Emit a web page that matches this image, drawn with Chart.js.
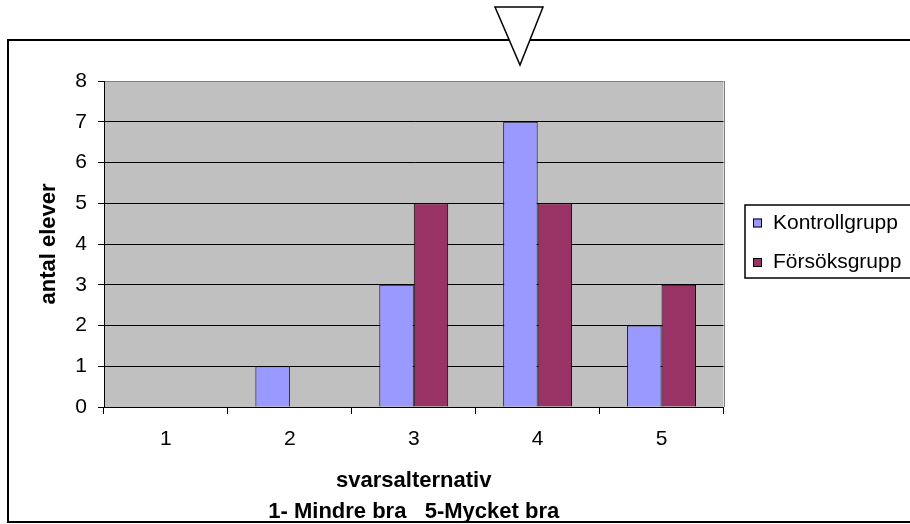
<!DOCTYPE html>
<html>
<head>
<meta charset="utf-8">
<script src="https://cdn.jsdelivr.net/npm/chart.js@4"></script>
<style>
  html, body { margin: 0; padding: 0; background: #ffffff; }
  #wrap { width: 910px; height: 524px; position: relative; }
</style>
</head>
<body>
<div id="wrap"><canvas id="c" width="910" height="524"></canvas></div>
<script>
// Answer categories (1 = Mindre bra ... 5 = Mycket bra)
const categories = ['1', '2', '3', '4', '5'];
// Number of pupils per answer
const kontrollgrupp = [0, 1, 3, 7, 2];
const forsoksgrupp = [0, 0, 5, 5, 3];
const seriesNames = ['Kontrollgrupp', 'Försöksgrupp'];
const seriesColors = ['#9999FF', '#993366'];
const yTicks = [0, 1, 2, 3, 4, 5, 6, 7, 8];
const yTitle = 'antal elever';
const xTitleLines = ['svarsalternativ', '1- Mindre bra   5-Mycket bra'];

const FONT = '"Liberation Sans", Arial, Helvetica, sans-serif';
const FS = 21;      // tick labels and legend
const FS_T = 22;    // axis titles (bold)

// Grey plot background, drawn underneath grid lines and bars
const plotBackground = {
  id: 'plotBackground',
  beforeDraw(chart) {
    const { ctx, chartArea: a } = chart;
    ctx.save();
    ctx.fillStyle = '#ffffff';
    ctx.fillRect(0, 0, chart.width, chart.height);
    ctx.fillStyle = '#C0C0C0';
    ctx.fillRect(a.left, a.top, a.right - a.left, a.bottom - a.top);
    ctx.restore();
  }
};

// Frame, axis caption, legend box and the marker triangle
const decorations = {
  id: 'decorations',
  afterDraw(chart) {
    const { ctx, chartArea: a } = chart;
    ctx.save();

    // right edge of the plot area
    ctx.strokeStyle = '#808080';
    ctx.lineWidth = 1;
    ctx.beginPath();
    ctx.moveTo(Math.round(a.right) + 0.5, a.top);
    ctx.lineTo(Math.round(a.right) + 0.5, a.bottom);
    ctx.stroke();

    // x axis caption (two lines)
    const cx = (a.left + a.right) / 2;
    ctx.fillStyle = '#000';
    ctx.textAlign = 'center';
    ctx.textBaseline = 'middle';
    ctx.font = 'bold ' + FS_T + 'px ' + FONT;
    ctx.fillText(xTitleLines[0], cx, 481);
    ctx.fillText(xTitleLines[1], cx, 512);

    // legend
    const lx = 745, ly = 205, lw = 200, lh = 73;
    ctx.fillStyle = '#ffffff';
    ctx.fillRect(lx, ly, lw, lh);
    ctx.strokeStyle = '#000';
    ctx.lineWidth = 1.5;
    ctx.strokeRect(lx, ly, lw, lh);
    ctx.font = FS + 'px ' + FONT;
    ctx.textAlign = 'left';
    ctx.textBaseline = 'middle';
    chart.data.datasets.forEach((ds, i) => {
      const y = 223 + i * 39.5;
      ctx.fillStyle = ds.backgroundColor;
      ctx.fillRect(753, y - 4.5, 9, 9);
      ctx.lineWidth = 1;
      ctx.strokeStyle = '#000';
      ctx.strokeRect(753.5, y - 4, 8, 8);
      ctx.fillStyle = '#000';
      ctx.fillText(ds.label, 773, y);
    });

    // outer frame
    ctx.strokeStyle = '#000';
    ctx.lineWidth = 2;
    ctx.beginPath();
    ctx.moveTo(930, 40);
    ctx.lineTo(8, 40);
    ctx.lineTo(8, 522);
    ctx.lineTo(930, 522);
    ctx.stroke();

    // triangle marker on the top edge
    ctx.beginPath();
    ctx.moveTo(495, 7);
    ctx.lineTo(543, 7);
    ctx.lineTo(520, 65);
    ctx.closePath();
    ctx.fillStyle = '#ffffff';
    ctx.fill();
    ctx.lineWidth = 1.5;
    ctx.strokeStyle = '#000';
    ctx.stroke();

    ctx.restore();
  }
};

new Chart(document.getElementById('c'), {
  type: 'bar',
  data: {
    labels: categories,
    datasets: [
      {
        label: seriesNames[0],
        data: kontrollgrupp,
        backgroundColor: seriesColors[0],
        borderColor: '#000000',
        borderWidth: 1,
        categoryPercentage: 0.556,
        barPercentage: 1.0
      },
      {
        label: seriesNames[1],
        data: forsoksgrupp,
        backgroundColor: seriesColors[1],
        borderColor: '#000000',
        borderWidth: 1,
        categoryPercentage: 0.556,
        barPercentage: 1.0
      }
    ]
  },
  options: {
    responsive: false,
    animation: false,
    devicePixelRatio: 1,
    layout: { padding: { top: 81, right: 186.5, bottom: 0, left: 0 } },
    plugins: {
      legend: { display: false },
      tooltip: { enabled: false },
      title: { display: false }
    },
    scales: {
      x: {
        grid: {
          drawOnChartArea: false,
          drawTicks: true,
          tickLength: 7,
          color: '#000000',
          offset: true
        },
        border: { color: '#000000', width: 1 },
        ticks: {
          color: '#000000',
          font: { family: FONT, size: FS },
          padding: 13,
          maxRotation: 0
        },
        afterFit(scale) { scale.height = 117; }
      },
      y: {
        min: 0,
        max: 8,
        afterBuildTicks(scale) { scale.ticks = yTicks.map(v => ({ value: v })); },
        grid: {
          color: ctx => (ctx.tick && ctx.tick.value === 8 ? '#808080' : '#000000'),
          tickColor: '#000000',
          lineWidth: 1,
          tickLength: 6,
          drawTicks: true
        },
        border: { color: '#000000', width: 1 },
        ticks: {
          color: '#000000',
          font: { family: FONT, size: FS },
          padding: 11
        },
        title: {
          display: true,
          text: yTitle,
          color: '#000000',
          font: { family: FONT, size: FS_T, weight: 'bold' },
          padding: { top: 36, bottom: 0 }
        },
        afterFit(scale) { scale.width = 104; }
      }
    }
  },
  plugins: [plotBackground, decorations]
});
</script>
</body>
</html>
